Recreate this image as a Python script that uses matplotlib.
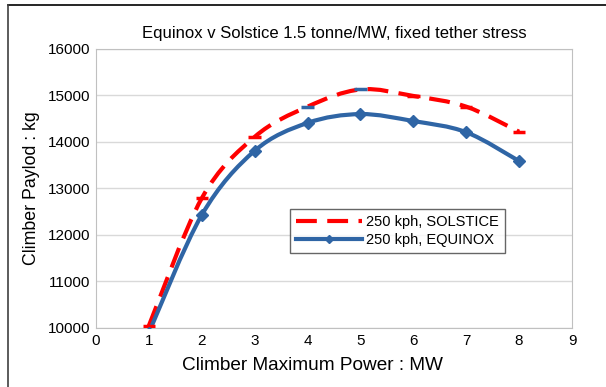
import matplotlib.pyplot as plt
import numpy as np
from matplotlib.path import Path
from matplotlib.patches import PathPatch
from matplotlib.lines import Line2D

plt.rcParams['font.family'] = ['Liberation Sans', 'DejaVu Sans']

power = [1, 2, 3, 4, 5, 6, 7, 8]
solstice = [10050, 12790, 14110, 14760, 15130, 14990, 14760, 14220]
equinox = [9900, 12430, 13810, 14410, 14600, 14450, 14210, 13590]
solstice_marker_colors = ["#ff0000", "#ff0000", "#ff0000", "#2f65a5", "#2f65a5",
                          "#ff0000", "#ff0000", "#ff0000"]

RED = "#ff0000"
BLUE = "#2f65a5"
DASH = (0, (5, 2.5))


def smooth_path(x, y):
    # Excel-style smoothed line: cubic Bezier through each point
    x = np.asarray(x, float)
    y = np.asarray(y, float)
    verts = [(x[0], y[0])]
    codes = [Path.MOVETO]
    n = len(x)
    for i in range(n - 1):
        p0 = (x[max(i - 1, 0)], y[max(i - 1, 0)])
        p1 = (x[i], y[i])
        p2 = (x[i + 1], y[i + 1])
        p3 = (x[min(i + 2, n - 1)], y[min(i + 2, n - 1)])
        c1 = (p1[0] + (p2[0] - p0[0]) / 6, p1[1] + (p2[1] - p0[1]) / 6)
        c2 = (p2[0] - (p3[0] - p1[0]) / 6, p2[1] - (p3[1] - p1[1]) / 6)
        verts += [c1, c2, p2]
        codes += [Path.CURVE4] * 3
    return Path(verts, codes)


fig = plt.figure(figsize=(6.06, 3.87), dpi=100)
ax = fig.add_axes([0.1584, 0.1525, 0.7855, 0.7209])

ax.add_patch(PathPatch(smooth_path(power, solstice), fill=False, edgecolor=RED,
                       lw=3, linestyle=DASH, capstyle='butt', zorder=3))
ax.add_patch(PathPatch(smooth_path(power, equinox), fill=False, edgecolor=BLUE,
                       lw=3, zorder=4))
ax.scatter(power, solstice, marker="_", s=80, linewidths=2.5,
           c=solstice_marker_colors, zorder=5)
ax.plot(power, equinox, linestyle="none", marker="D", ms=6, color=BLUE, zorder=6)

ax.set_xlim(0, 9)
ax.set_ylim(10000, 16000)
ax.set_xticks(range(0, 10))
ax.set_yticks(range(10000, 16001, 1000))
ax.tick_params(length=0, labelsize=11, pad=4)
ax.yaxis.grid(True, color="#d9d9d9", lw=1)
ax.set_axisbelow(True)
for s in ax.spines.values():
    s.set_color("#c0c0c0")

ax.set_xlabel("Climber Maximum Power : MW", fontsize=13.7, labelpad=7)
ax.xaxis.label.set_x(0.454)
ax.set_ylabel("Climber Paylod : kg", fontsize=12.8, labelpad=6)
ax.set_title("Equinox v Solstice 1.5 tonne/MW, fixed tether stress", fontsize=12, pad=8)

handles = [Line2D([], [], color=RED, lw=3, linestyle=DASH),
           Line2D([], [], color=BLUE, lw=3, marker="D", ms=4)]
leg = ax.legend(handles, ["250 kph, SOLSTICE", "250 kph, EQUINOX"],
                loc="upper left", bbox_to_anchor=(0.393, 0.452), fontsize=10.5,
                frameon=True, fancybox=False, handlelength=4.5, handletextpad=0.3,
                borderpad=0.4, labelspacing=0.3)
leg.get_frame().set_edgecolor("#404040")
leg.get_frame().set_linewidth(1)

# outer chart frame (top and left edges)
fig.add_artist(Line2D([0.013, 1.0], [0.987, 0.987], color="black", lw=1.2))
fig.add_artist(Line2D([0.013, 0.013], [0.0, 0.987], color="#404040", lw=1.2))

fig.savefig("out.png", dpi=100)
